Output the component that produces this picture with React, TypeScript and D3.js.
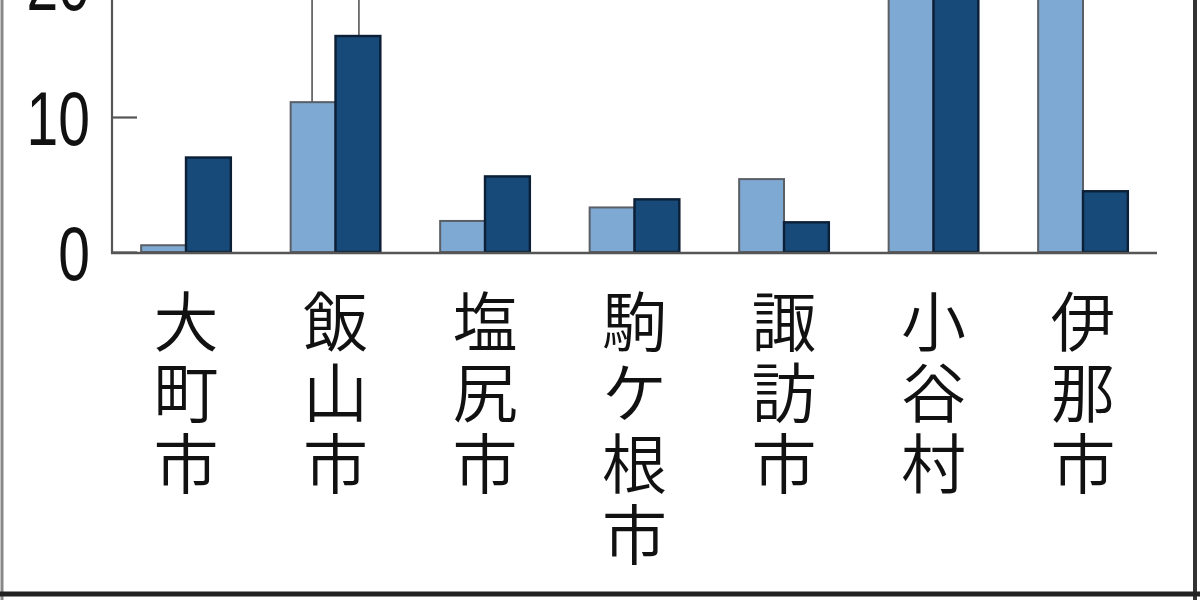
import React, { useRef, useEffect } from 'react';
import * as d3 from 'd3';

const categories = ['大町市', '飯山市', '塩尻市', '駒ケ根市', '諏訪市', '小谷村', '伊那市'];
// light blue series / dark blue series (values above ~19 run off the top of the crop)
const seriesLight = [0.5, 11.1, 2.3, 3.3, 5.4, 27.4, 25.3];
const seriesDark = [7.0, 16.0, 5.6, 3.9, 2.2, 26.1, 4.5];
const yTicks = [0, 10, 20];
// bars that carry a leader line up to an annotation outside the crop
const leaderLight = ['飯山市'];
const leaderDark = ['飯山市'];

const W = 1200;
const H = 600;

export default function App() {
  const svgRef = useRef<SVGSVGElement>(null);

  useEffect(() => {
    if (!svgRef.current) return;
    const svg = d3.select(svgRef.current);
    svg.selectAll('*').remove();

    const x0 = d3.scaleBand()
      .domain(categories)
      .range([112, 1157])
      .paddingInner(0.4)
      .paddingOuter(0.195);

    const x1 = d3.scaleBand()
      .domain(['light', 'dark'])
      .range([0, x0.bandwidth()]);

    const y = d3.scaleLinear()
      .domain([0, 20])
      .range([252, -18]);

    const rows = categories.map((c, i) => ({ cat: c, light: seriesLight[i], dark: seriesDark[i] }));

    // leader lines drawn first, so bars sit above them
    const leaders = svg.append('g');
    rows.forEach(d => {
      if (leaderLight.includes(d.cat)) {
        const cx = (x0(d.cat) || 0) + (x1('light') || 0) + x1.bandwidth() / 2 - 1;
        leaders.append('line')
          .attr('x1', cx).attr('x2', cx)
          .attr('y1', y(d.light)).attr('y2', -5)
          .attr('stroke', '#555').attr('stroke-width', 1.6);
      }
      if (leaderDark.includes(d.cat)) {
        const cx = (x0(d.cat) || 0) + (x1('dark') || 0) + x1.bandwidth() / 2 + 1;
        leaders.append('line')
          .attr('x1', cx).attr('x2', cx)
          .attr('y1', y(d.dark)).attr('y2', -5)
          .attr('stroke', '#555').attr('stroke-width', 1.6);
      }
    });

    const groups = svg.append('g')
      .selectAll('g')
      .data(rows)
      .enter()
      .append('g')
      .attr('transform', d => `translate(${x0(d.cat)},0)`);

    groups.append('rect')
      .attr('x', x1('light') || 0)
      .attr('y', d => y(d.light))
      .attr('width', x1.bandwidth())
      .attr('height', d => y(0) - y(d.light))
      .attr('fill', '#7ea9d3')
      .attr('stroke', '#5a5f66')
      .attr('stroke-width', 2);

    groups.append('rect')
      .attr('x', x1('dark') || 0)
      .attr('y', d => y(d.dark))
      .attr('width', x1.bandwidth())
      .attr('height', d => y(0) - y(d.dark))
      .attr('fill', '#174a78')
      .attr('stroke', '#0b1f36')
      .attr('stroke-width', 2.4);

    // y axis: ticks point inward, condensed labels
    const yAxis = svg.append('g')
      .attr('transform', 'translate(112,0)')
      .call(d3.axisLeft(y).tickValues(yTicks).tickSize(-25).tickSizeOuter(0).tickPadding(0));
    yAxis.select('.domain').remove();
    yAxis.selectAll('.tick line').attr('stroke', '#555').attr('stroke-width', 2.2);
    yAxis.selectAll('.tick text')
      .attr('x', 0)
      .attr('dy', '0.36em')
      .attr('transform', 'translate(-22,0) scale(0.75,1)')
      .attr('font-family', '"Liberation Sans", Arial, sans-serif')
      .attr('font-size', 76)
      .attr('fill', '#111');

    svg.append('line')
      .attr('x1', 112).attr('x2', 112)
      .attr('y1', -5).attr('y2', y(0) + 1)
      .attr('stroke', '#555').attr('stroke-width', 2.2);
    svg.append('line')
      .attr('x1', 111).attr('x2', 1157)
      .attr('y1', y(0) + 1).attr('y2', y(0) + 1)
      .attr('stroke', '#555').attr('stroke-width', 2.4);

    // vertical category labels, one glyph per row
    const labels = svg.append('g')
      .attr('font-family', '"Noto Sans CJK JP", sans-serif')
      .attr('font-size', 65)
      .attr('font-weight', 350)
      .attr('fill', '#111');
    categories.forEach(c => {
      const cx = (x0(c) || 0) + x0.bandwidth() / 2;
      const t = labels.append('text')
        .attr('text-anchor', 'middle')
        .attr('dominant-baseline', 'central');
      Array.from(c).forEach((ch, j) => {
        t.append('tspan')
          .attr('x', cx)
          .attr('y', 318 + j * 71)
          .attr('dominant-baseline', 'central')
          .text(ch);
      });
    });

    // frame of the cropped graphic
    svg.append('line')
      .attr('x1', 2).attr('x2', 2).attr('y1', 0).attr('y2', H)
      .attr('stroke', '#888').attr('stroke-width', 3);
    svg.append('line')
      .attr('x1', 1195).attr('x2', 1195).attr('y1', 0).attr('y2', H)
      .attr('stroke', '#333').attr('stroke-width', 4);
    svg.append('line')
      .attr('x1', 0).attr('x2', W).attr('y1', 594).attr('y2', 594)
      .attr('stroke', '#222').attr('stroke-width', 5);
  }, []);

  return (
    <svg
      ref={svgRef}
      width={W}
      height={H}
      style={{ position: 'absolute', left: 0, top: 0, background: '#fff', display: 'block' }}
    />
  );
}
